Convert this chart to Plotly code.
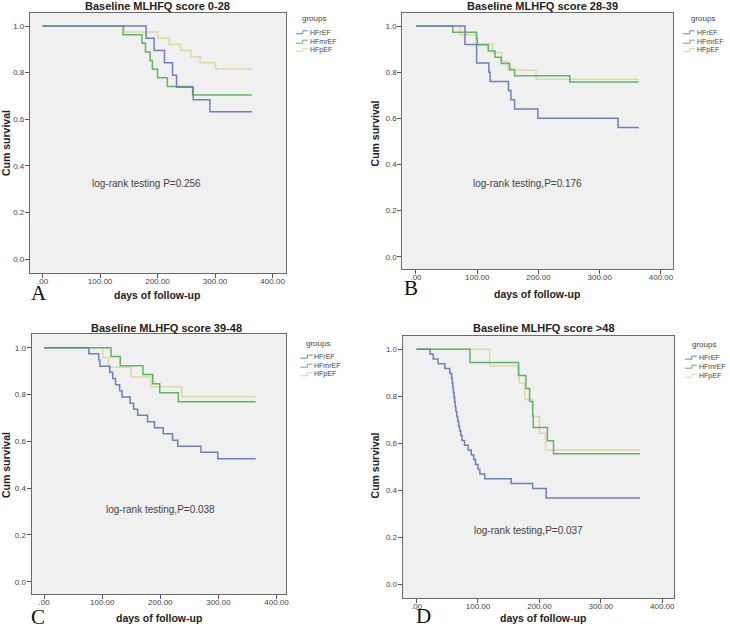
import plotly.graph_objects as go

# ---------------- data ----------------
groups = ["HFrEF", "HFmrEF", "HFpEF"]
panel_titles = ["Baseline MLHFQ score 0-28", "Baseline MLHFQ score 28-39",
                "Baseline MLHFQ score 39-48", "Baseline MLHFQ score >48"]
panel_letters = ["A", "B", "C", "D"]
pvalue_texts = ["log-rank testing P=0.256", "log-rank testing,P=0.176",
                "log-rank testing,P=0.038", "log-rank testing,P=0.037"]
x_tick_vals = [0, 100, 200, 300, 400]
x_tick_text = [".00", "100.00", "200.00", "300.00", "400.00"]
y_tick_vals = [0.0, 0.2, 0.4, 0.6, 0.8, 1.0]
y_tick_text = ["0.0", "0.2", "0.4", "0.6", "0.8", "1.0"]

# Panel A
A_HFrEF_t = [0, 180, 194, 212, 226, 233, 262, 291, 364]
A_HFrEF_s = [1, 0.947, 0.895, 0.842, 0.789, 0.737, 0.684, 0.632, 0.632]
A_HFmrEF_t = [0, 140, 173, 179, 187, 191, 200, 217, 261, 364]
A_HFmrEF_s = [1, 0.963, 0.926, 0.889, 0.852, 0.815, 0.778, 0.741, 0.704, 0.704]
A_HFpEF_t = [0, 142, 200, 220, 240, 258, 274, 301, 364]
A_HFpEF_s = [1, 0.974, 0.947, 0.921, 0.895, 0.868, 0.842, 0.816, 0.816]

# Panel B
B_HFrEF_t = [0, 80, 99, 119, 121, 151, 155, 161, 199, 330, 364]
B_HFrEF_s = [1, 0.92, 0.84, 0.80, 0.76, 0.72, 0.68, 0.64, 0.60, 0.56, 0.56]
B_HFmrEF_t = [0, 60, 99, 100, 118, 129, 139, 153, 161, 251, 364]
B_HFmrEF_s = [1, 0.973, 0.946, 0.919, 0.892, 0.865, 0.838, 0.811, 0.784, 0.757, 0.757]
B_HFpEF_t = [0, 72, 98, 125, 140, 150, 196, 364]
B_HFpEF_s = [1, 0.962, 0.923, 0.885, 0.846, 0.808, 0.769, 0.769]

# Panel C
C_HFrEF_t = [0, 77, 94, 96, 113, 118, 123, 130, 134, 148, 154, 161, 178, 190,
             205, 221, 230, 270, 299, 364]
C_HFrEF_s = [1, 0.974, 0.947, 0.921, 0.895, 0.868, 0.842, 0.816, 0.789, 0.763,
             0.737, 0.711, 0.684, 0.658, 0.632, 0.605, 0.579, 0.553, 0.526, 0.526]
C_HFmrEF_t = [0, 115, 131, 170, 187, 199, 231, 364]
C_HFmrEF_s = [1, 0.962, 0.923, 0.885, 0.846, 0.808, 0.769, 0.769]
C_HFpEF_t = [0, 101, 111, 150, 184, 237, 364]
C_HFpEF_s = [1, 0.958, 0.917, 0.875, 0.833, 0.792, 0.792]

# Panel D
D_HFrEF_t = [0, 22, 27, 35, 46, 54, 57, 58, 59, 60, 61, 62, 63, 64, 65.5, 67,
             68.5, 70, 72, 74, 78, 84, 89, 93, 96, 100, 103, 111, 154, 189, 211, 364]
D_HFrEF_s = [1, 0.980, 0.959, 0.939, 0.918, 0.898, 0.878, 0.857, 0.837, 0.816,
             0.796, 0.776, 0.755, 0.735, 0.714, 0.694, 0.673, 0.653, 0.633, 0.612,
             0.592, 0.571, 0.551, 0.531, 0.510, 0.490, 0.469, 0.449, 0.429, 0.408,
             0.367, 0.367]
D_HFmrEF_t = [0, 87, 166, 178, 184, 189, 190, 213, 223, 364]
D_HFmrEF_s = [1, 0.944, 0.889, 0.833, 0.778, 0.722, 0.667, 0.611, 0.556, 0.556]
D_HFpEF_t = [0, 119, 167, 176, 189, 200, 210, 364]
D_HFpEF_s = [1, 0.929, 0.857, 0.786, 0.714, 0.643, 0.571, 0.571]

curves = [
    [(A_HFrEF_t, A_HFrEF_s), (A_HFmrEF_t, A_HFmrEF_s), (A_HFpEF_t, A_HFpEF_s)],
    [(B_HFrEF_t, B_HFrEF_s), (B_HFmrEF_t, B_HFmrEF_s), (B_HFpEF_t, B_HFpEF_s)],
    [(C_HFrEF_t, C_HFrEF_s), (C_HFmrEF_t, C_HFmrEF_s), (C_HFpEF_t, C_HFpEF_s)],
    [(D_HFrEF_t, D_HFrEF_s), (D_HFmrEF_t, D_HFmrEF_s), (D_HFpEF_t, D_HFpEF_s)],
]

# ---------------- styling / layout ----------------
W, H = 730, 629
colors = ["#6f7fb8", "#5fb566", "#ddd8a8"]
draw_order = [2, 1, 0]  # tan underneath, blue on top

def px(x):
    return x / W

def py(y):
    return 1 - y / H

# plot boxes in pixels (left, right, top, bottom) and axis ranges
boxes = [
    dict(l=30, r=287, t=13, b=273, xr=[-22, 423], yr=[-0.0587, 1.0557]),
    dict(l=404, r=676, t=13, b=269, xr=[-22.3, 420], yr=[-0.0533, 1.0564]),
    dict(l=31.7, r=287.3, t=334.3, b=594.3, xr=[-21.6, 416.5], yr=[-0.0538, 1.0573]),
    dict(l=404.3, r=676.7, t=335.7, b=598.3, xr=[-22.7, 419], yr=[-0.0596, 1.0579]),
]
titles_pos = [(158, 6), (545, 6), (166.7, 327.7), (546.7, 328.3)]
xtitle_pos = [(158, 295), (539, 294), (160, 618), (545, 618)]
ytitle_pos = [(6, 143), (377, 133), (6, 465), (377, 465)]
letter_pos = [(39, 293), (413, 287.5), (38, 617), (425, 616)]
pval_pos = [(147, 183), (530, 183), (161, 509.3), (531, 530)]
legend_pos = [  # groups label centre, glyph left x, entry ys
    dict(gx=315, gy=19, lx=297, ys=[32.3, 41.7, 50]),
    dict(gx=705.7, gy=19, lx=685.7, ys=[32.3, 41.7, 50]),
    dict(gx=319.3, gy=343.3, lx=301.7, ys=[356.7, 365.7, 374.3]),
    dict(gx=706.7, gy=344.3, lx=687.7, ys=[357.7, 366.7, 375.7]),
]

fig = go.Figure()
layout = dict(width=W, height=H, margin=dict(l=0, r=0, t=0, b=0),
              paper_bgcolor="white", showlegend=False,
              font=dict(family="Arial, Liberation Sans, sans-serif", color="#333"))
annotations = []
shapes = []

for i in range(4):
    b = boxes[i]
    sfx = "" if i == 0 else str(i + 1)
    xa, ya = "x" + sfx, "y" + sfx
    for g in draw_order:
        t, s = curves[i][g]
        fig.add_trace(go.Scatter(x=t, y=s, mode="lines", line_shape="hv",
                                 line=dict(color=colors[g], width=1.5),
                                 name=groups[g], xaxis=xa, yaxis=ya))
    common = dict(showgrid=False, zeroline=False, showline=True, mirror=True,
                  linecolor="#6a6a6a", linewidth=1, ticks="outside", ticklen=4,
                  tickcolor="#555", tickfont=dict(size=8, color="#444"))
    layout["xaxis" + sfx] = dict(domain=[px(b["l"]), px(b["r"])], range=b["xr"],
                                 tickvals=x_tick_vals, ticktext=x_tick_text,
                                 anchor=ya, ticklabelstandoff=-4, **common)
    layout["yaxis" + sfx] = dict(domain=[py(b["b"]), py(b["t"])], range=b["yr"],
                                 tickvals=y_tick_vals, ticktext=y_tick_text,
                                 anchor=xa, ticklabelstandoff=-1, **common)
    shapes.append(dict(type="rect", xref="paper", yref="paper", layer="below",
                       x0=px(b["l"]), x1=px(b["r"]), y0=py(b["b"]), y1=py(b["t"]),
                       fillcolor="#f0f0f0", line=dict(width=0)))

    tx, ty = titles_pos[i]
    annotations.append(dict(text="<b>" + panel_titles[i] + "</b>", x=px(tx), y=py(ty),
                            xref="paper", yref="paper", showarrow=False,
                            xanchor="center", yanchor="middle",
                            font=dict(size=11, color="#222")))
    tx, ty = xtitle_pos[i]
    annotations.append(dict(text="<b>days of follow-up</b>", x=px(tx), y=py(ty),
                            xref="paper", yref="paper", showarrow=False,
                            xanchor="center", yanchor="middle",
                            font=dict(size=10.5, color="#222")))
    tx, ty = ytitle_pos[i]
    annotations.append(dict(text="<b>Cum survival</b>", x=px(tx), y=py(ty),
                            xref="paper", yref="paper", showarrow=False, textangle=-90,
                            xanchor="center", yanchor="middle",
                            font=dict(size=10.5, color="#222")))
    tx, ty = letter_pos[i]
    annotations.append(dict(text=panel_letters[i], x=px(tx), y=py(ty),
                            xref="paper", yref="paper", showarrow=False,
                            xanchor="center", yanchor="middle",
                            font=dict(size=21, color="#111",
                                      family="Liberation Serif, Times New Roman, serif")))
    tx, ty = pval_pos[i]
    annotations.append(dict(text=pvalue_texts[i], x=px(tx), y=py(ty),
                            xref="paper", yref="paper", showarrow=False,
                            xanchor="center", yanchor="middle",
                            font=dict(size=10, color="#444")))
    lg = legend_pos[i]
    annotations.append(dict(text="groups", x=px(lg["gx"]), y=py(lg["gy"]),
                            xref="paper", yref="paper", showarrow=False,
                            xanchor="center", yanchor="middle",
                            font=dict(size=8, color="#444")))
    for g in range(3):
        ey = lg["ys"][g]
        x0 = lg["lx"]
        path = "M {a},{b} L {c},{b} L {c},{d} L {e},{d}".format(
            a=px(x0), b=py(ey + 1.5), c=px(x0 + 7), d=py(ey - 1.5), e=px(x0 + 12))
        shapes.append(dict(type="path", xref="paper", yref="paper", path=path,
                           line=dict(color=colors[g], width=1)))
        annotations.append(dict(text=groups[g], x=px(x0 + 12), y=py(ey),
                                xref="paper", yref="paper", showarrow=False,
                                xanchor="left", yanchor="middle",
                                font=dict(size=7, color="#444")))

layout["annotations"] = annotations
layout["shapes"] = shapes
layout["plot_bgcolor"] = "rgba(0,0,0,0)"
fig.update_layout(**layout)
fig.write_html("out.html", config={"displayModeBar": False},
               post_script="document.body.style.margin='0px';"
                           "document.body.style.overflow='hidden';")
